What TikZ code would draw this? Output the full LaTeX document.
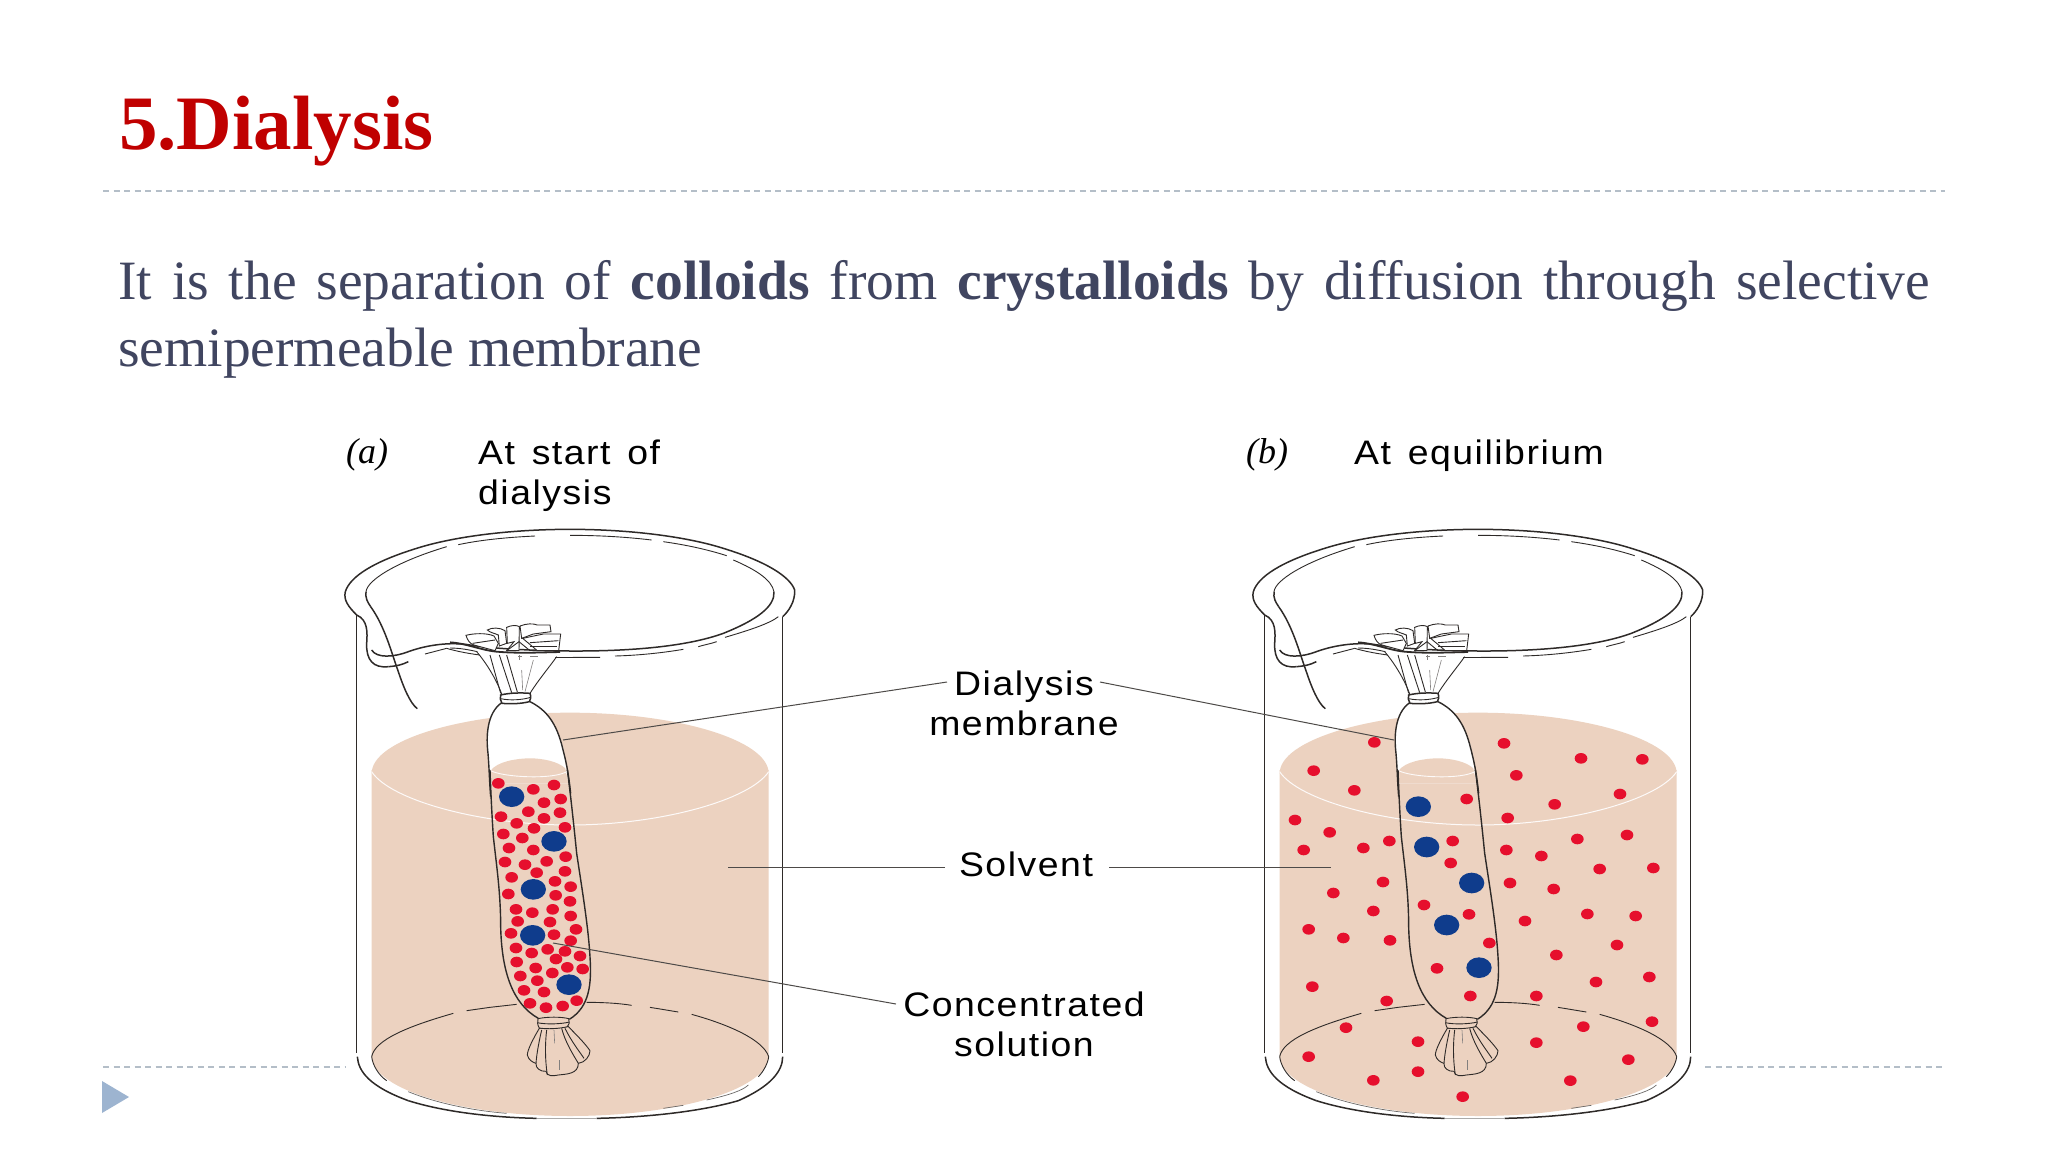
\documentclass[tikz,border=0pt]{standalone}
\usepackage{fontspec}
\setmainfont{Liberation Serif}
\newfontfamily\lab[LetterSpace=4.5,FakeStretch=1.1,WordSpace=1.4]{Liberation Sans}
\definecolor{liq}{HTML}{ECD2C0}
\definecolor{red1}{HTML}{E60F2D}
\definecolor{blu}{HTML}{0F3C8C}
\definecolor{ttl}{HTML}{C00000}
\definecolor{bodyc}{HTML}{404560}
\definecolor{rulec}{HTML}{B4BEC8}
\definecolor{tri}{HTML}{9DB4D0}
\definecolor{ink}{HTML}{2E2A28}
\tikzset{
 z1/.style={shift={(330,420)},x=0.33333pt,y=-0.33333pt},
 z2/.style={shift={(330,770)},x=0.33333pt,y=-0.33333pt},
 z3/.style={shift={(1240,700)},x=0.33333pt,y=-0.33333pt},
 k1/.style={shift={(450,610)},x=0.33333pt,y=-0.33333pt},
 k2/.style={shift={(510,1000)},x=0.33333pt,y=-0.33333pt},
 glass/.style={draw=ink,line width=1.5pt},
 thin glass/.style={draw=ink,line width=0.9pt},
 faint/.style={draw=ink!60,line width=0.6pt},
 leader/.style={draw=ink!85,line width=1pt},
 lbl/.style={font=\fontsize{34}{40}\selectfont\lab,text=black,inner sep=0pt,align=center},
 head/.style={font=\fontsize{34}{40}\selectfont\lab,text=black,inner sep=0pt,anchor=base west},
 tag/.style={font=\fontsize{36}{40}\selectfont\itshape,text=black,inner sep=0pt,anchor=base west},
 rule/.style={draw=rulec,line width=1.4pt,dash pattern=on 6pt off 4.5pt},
 rd/.style={fill=red1,draw=none},
 bl/.style={fill=blu,draw=none},
}
\newcommand\beakerbase{%
 \begin{scope}[z2]
  \fill[liq] (125,0) -- (125,860) .. controls (130,960) and (400,1038) .. (720,1038)
     .. controls (1040,1038) and (1310,960) .. (1316,860) -- (1316,0) -- cycle;
 \end{scope}
 \begin{scope}[z1]
  \fill[liq] (125,1060) .. controls (125,960) and (400,878) .. (720,878)
     .. controls (1040,878) and (1316,960) .. (1316,1060) -- cycle;
  \fill[white] (515,848) .. controls (470,880) and (468,950) .. (474,1000)
     -- (480,1090) -- (715,1090) -- (700,985) .. controls (680,910) and (650,870) .. (600,845) -- cycle;
  \fill[liq] (482,1052) .. controls (500,1025) and (560,1015) .. (600,1015)
     .. controls (640,1015) and (685,1025) .. (706,1045) -- (715,1090) -- (480,1090) -- cycle;
 \end{scope}
 \begin{scope}[z2]
  \draw[white!90!liq,line width=1pt] (125,5) .. controls (180,90) and (450,165) .. (720,165)
     .. controls (990,165) and (1260,90) .. (1316,5);
  \draw[white!90!liq,line width=0.9pt] (482,2) .. controls (520,22) and (670,30) .. (712,4);
  \draw[thin glass] (125,860) .. controls (135,810) and (230,770) .. (370,730);
  \draw[thin glass] (410,722) -- (480,712) -- (560,703);
  \draw[thin glass] (770,697) .. controls (820,697) and (870,700) .. (905,706);
  \draw[thin glass] (960,712) -- (1045,726);
  \draw[thin glass] (1085,733) .. controls (1200,765) and (1300,810) .. (1316,860);
  \draw[thin glass] (125,860) .. controls (128,885) and (145,915) .. (170,932);
  \draw[thin glass] (1316,860) .. controls (1314,880) and (1300,905) .. (1285,920);
  \draw[draw=ink!70,line width=0.7pt] (235,965) .. controls (320,1000) and (430,1022) .. (530,1030);
  \draw[draw=ink!70,line width=0.7pt] (1130,990) .. controls (1200,975) and (1240,960) .. (1255,945);
  \draw[draw=ink!70,line width=0.7pt] (1000,1015) -- (1060,1006);
 \end{scope}
}
\newcommand\beakerglass{%
 \begin{scope}[z1]
  \draw[glass] (80,585) -- (80,1900);
  \draw[glass] (1358,590) -- (1358,1900);
  \draw[glass] (80,585) .. controls (55,560) and (40,540) .. (46,515)
     .. controls (60,470) and (130,425) .. (260,385)
     .. controls (370,350) and (540,328) .. (720,328)
     .. controls (900,328) and (1070,350) .. (1180,385)
     .. controls (1310,425) and (1380,470) .. (1394,510)
     .. controls (1396,545) and (1375,575) .. (1358,590);
  \draw[thin glass] (108,515) .. controls (112,480) and (200,425) .. (350,380);
  \draw[thin glass] (385,374) .. controls (450,360) and (530,352) .. (615,348);
  \draw[thin glass] (720,346) .. controls (800,346) and (880,350) .. (965,360);
  \draw[thin glass] (1000,365) .. controls (1070,375) and (1130,388) .. (1190,407);
  \draw[thin glass] (1210,420) .. controls (1280,450) and (1325,480) .. (1332,515);
  \draw[glass] (108,515) .. controls (106,535) and (112,545) .. (122,560);
  \draw[glass] (122,560) .. controls (165,620) and (185,700) .. (205,755)
     .. controls (220,800) and (240,850) .. (262,866);
  \draw[glass] (1332,515) .. controls (1335,560) and (1280,600) .. (1180,640)
     .. controls (1070,680) and (900,694) .. (720,693)
     .. controls (600,692) and (480,685) .. (420,675)
     .. controls (360,665) and (290,675) .. (235,695)
     .. controls (190,712) and (140,715) .. (125,690);
  \draw[glass] (80,585) .. controls (115,600) and (112,640) .. (110,670)
     .. controls (108,720) and (130,745) .. (175,740);
  \draw[glass] (175,740) .. controls (200,738) and (215,735) .. (235,725);
  \draw[thin glass] (285,702) -- (350,685);
  \draw[thin glass] (350,685) .. controls (400,700) and (480,712) .. (560,713)
     -- (810,712);
  \draw[thin glass] (855,708) .. controls (930,706) and (1000,698) .. (1060,688);
  \draw[thin glass] (1105,680) .. controls (1120,675) and (1140,672) .. (1160,665);
  \draw[thin glass] (1185,652) .. controls (1260,630) and (1320,610) .. (1345,590);
 \end{scope}
 \begin{scope}[z2]
  \draw[glass] (82,860) .. controls (85,905) and (120,950) .. (235,992);
  \draw[glass] (235,992) .. controls (340,1025) and (480,1042) .. (620,1045);
  \draw[glass] (800,1045) .. controls (950,1042) and (1110,1025) .. (1225,992)
     .. controls (1320,950) and (1358,905) .. (1358,860);
  \draw[line width=0.8pt,draw=ink!40] (620,1045) -- (800,1045);
 \end{scope}
}
\newcommand\bagknots{%
 \begin{scope}[z1]
  \draw[glass,line width=1.4pt] (515,848) .. controls (470,880) and (468,950) .. (474,1000)
     .. controls (478,1050) and (478,1080) .. (482,1130);
  \draw[glass,line width=1.4pt] (600,845) .. controls (650,870) and (680,910) .. (698,985)
     .. controls (712,1040) and (715,1060) .. (722,1120);
 \end{scope}
 \begin{scope}[k1]
  \fill[white] (80,125) .. controls (110,160) and (140,210) .. (155,252) -- (240,250)
     .. controls (265,210) and (295,175) .. (320,135) -- cycle;
  \draw[thin glass] (80,125) .. controls (110,160) and (140,210) .. (155,252);
  \draw[thin glass] (320,140) .. controls (295,175) and (265,210) .. (240,250);
  \draw[thin glass] (120,135) -- (152,250);
  \draw[thin glass] (148,135) -- (185,248);
  \draw[thin glass] (170,135) -- (202,246);
  \draw[faint] (250,150) -- (225,245);
  \draw[faint] (215,180) -- (218,240);
  \draw[faint] (207,135) -- (207,150);
  \draw[glass,fill=white] (152,255) .. controls (180,248) and (215,248) .. (240,250)
     .. controls (244,260) and (242,270) .. (238,275)
     .. controls (210,282) and (180,282) .. (156,280)
     .. controls (150,272) and (150,262) .. (152,255) -- cycle;
  \draw[thin glass] (152,266) .. controls (180,272) and (215,270) .. (242,262);
  \draw[thin glass,fill=white] (48,76) .. controls (70,70) and (110,68) .. (132,78)
     -- (145,100) -- (135,122) -- (72,105) .. controls (60,102) and (52,90) .. (48,76) -- cycle;
  \draw[thin glass,fill=white] (112,60) .. controls (125,52) and (150,52) .. (165,62)
     -- (170,100) -- (148,108) -- (145,75) .. controls (135,70) and (120,68) .. (112,60) -- cycle;
  \draw[thin glass,fill=white] (170,52) .. controls (185,45) and (200,45) .. (208,50)
     -- (207,122) -- (170,122) -- (192,95) -- (172,100) -- cycle;
  \draw[thin glass,fill=white] (210,48) .. controls (230,40) and (250,40) .. (262,45)
     -- (300,45) -- (303,65) -- (250,72) -- (215,85) -- cycle;
  \draw[thin glass,fill=white] (218,85) -- (280,72) -- (332,72) -- (326,122) -- (262,122) -- cycle;
  \draw[thin glass] (68,100) -- (135,90);
  \draw[thin glass] (240,98) -- (325,92);
  \draw[thin glass] (240,108) -- (322,108);
  \draw[thin glass] (207,95) -- (240,122);
  \draw[thin glass] (207,95) -- (170,122);
  \draw[glass,line width=1.8pt] (0,97) .. controls (50,100) and (90,120) .. (140,125)
     .. controls (200,130) and (250,128) .. (330,126);
  \draw[thin glass] (0,114) .. controls (30,114) and (60,120) .. (82,125);
  \draw[faint] (205,140) -- (215,140);
  \draw[faint] (240,140) -- (265,140);
 \end{scope}
 \begin{scope}[z2]
  \draw[glass,line width=1.4pt] (480,0) .. controls (482,60) and (486,140) .. (490,200)
     .. controls (500,290) and (512,370) .. (512,470)
     .. controls (515,600) and (545,700) .. (625,745);
  \draw[glass,line width=1.4pt] (712,0) .. controls (720,60) and (730,150) .. (740,250)
     .. controls (755,350) and (775,470) .. (780,560)
     .. controls (785,640) and (780,710) .. (718,748);
 \end{scope}
 \begin{scope}[k2]
  \draw[thin glass,fill=liq] (88,85) .. controls (70,115) and (52,150) .. (52,165)
     .. controls (55,180) and (70,188) .. (78,190)
     .. controls (76,205) and (92,215) .. (108,214)
     .. controls (110,230) and (130,228) .. (145,225)
     .. controls (170,222) and (205,222) .. (205,190)
     .. controls (225,188) and (240,168) .. (240,152)
     .. controls (225,130) and (195,100) .. (175,80) -- cycle;
  \draw[thin glass] (95,90) .. controls (88,120) and (80,160) .. (78,190);
  \draw[thin glass] (110,90) .. controls (105,130) and (105,180) .. (112,225);
  \draw[thin glass] (155,85) .. controls (165,125) and (190,165) .. (205,190);
  \draw[thin glass] (165,85) .. controls (185,125) and (205,150) .. (222,175);
  \draw[faint] (132,90) -- (134,130);
  \draw[faint] (147,180) -- (147,210);
  \draw[thin glass,fill=liq] (84,56) .. controls (110,50) and (155,50) .. (176,56)
     .. controls (180,65) and (178,75) .. (172,80)
     .. controls (150,86) and (110,88) .. (88,84)
     .. controls (82,75) and (82,65) .. (84,56) -- cycle;
  \draw[thin glass] (82,68) .. controls (110,74) and (155,72) .. (178,66);
 \end{scope}
}
\begin{document}
\begin{tikzpicture}[x=1pt,y=-1pt]
\useasboundingbox (0,0) rectangle (2048,1152);
\fill[white] (0,0) rectangle (2048,1152);
\node[anchor=base west,inner sep=0pt,text=ttl,font=\fontsize{77}{80}\selectfont\bfseries] (title) at (119,149) {5.Dialysis};
\coordinate (r1a) at (103,191); \coordinate (r1b) at (1945,191);
\draw[rule] (r1a) -- (r1b);
\coordinate (r2a) at (103,1067); \coordinate (r2b) at (345,1067);
\coordinate (r3a) at (1705,1067); \coordinate (r3b) at (1945,1067);
\draw[rule] (r2a) -- (r2b);
\draw[rule] (r3a) -- (r3b);
\fill[tri] (102,1081) -- (129,1097) -- (102,1113) -- cycle;
\node[anchor=north west,inner sep=0pt,text width=1812pt,align=justify,text=bodyc,font=\fontsize{55.5}{67}\selectfont] (body) at (118,260)
 {\hyphenpenalty=10000 It is the separation of \textbf{colloids} from \textbf{crystalloids} by diffusion through selective semipermeable membrane};
\begin{scope}
 \beakerbase
 \beakerglass
 \bagknots
 \begin{scope}[z2]
 \foreach \x/\y in {505/40,610/58,672/45,692/87,642/98,595/125,690/128,513/140,642/145,560/160,612/175,705/172,520/192,577/204,537/234,610/240,707/260,525/276,650/274,585/284,620/308,705/304,545/322,675/334,722/350,535/372,677/376,720/394,558/418,607/428,668/418,722/438,563/454,660/456,738/478,543/490,672/494,722/512,558/534,605/549,653/538,705/544,750/558,678/567,560/576,617/594,712/592,758/597,667/609,571/618,622/632,582/661,642/666,740/692,600/700,648/713,698/708}
   \fill[rd] (\x,\y) ellipse (19 and 16);
 \foreach \x/\y in {545/80,672/214,610/358,608/496,717/644}
   \fill[bl] (\x,\y) ellipse (38 and 31);
 \end{scope}
\end{scope}
\begin{scope}[shift={(908,0)}]
 \beakerbase
 \beakerglass
 \bagknots
\end{scope}
\begin{scope}[z3]
 \foreach \x/\y in {403/127,792/130,1023/175,1207/178,221/212,829/226,343/271,680/297,1140/282,944/313,165/360,803/354,269/397,1161/405,1012/417,448/423,638/423,191/450,370/444,799/450,904/468,632/489,1079/507,1240/504,429/546,810/549,941/567,280/579,400/633,552/615,687/643,1042/642,1187/648,855/663,206/688,310/714,450/721,748/729,1131/735,949/765,591/805,1228/831,1068/846,217/860,691/888,889/888,440/903,318/983,1030/980,1236/965,534/1025,889/1028,206/1070,1165/1079,534/1115,400/1141,991/1142,668/1190}
   \fill[rd] (\x,\y) ellipse (19 and 16);
 \foreach \x/\y in {535/320,560/441,695/549,620/675,717/803}
   \fill[bl] (\x,\y) ellipse (38 and 31);
\end{scope}
\node[tag] (taga) at (346,463) {(a)};
\node[head] (heada1) at (478,464) {At start of};
\node[head] (heada2) at (478,504) {dialysis};
\node[tag] (tagb) at (1246,463) {(b)};
\node[head] (headb) at (1354,464) {At equilibrium};
\node[lbl] (mem) at (1024,703) {Dialysis\\membrane};
\node[lbl] (sol) at (1026,864) {Solvent};
\node[lbl] (con) at (1024,1024) {Concentrated\\solution};
\coordinate (memA) at (563,740);
\coordinate (memB) at (1394,740);
\coordinate (solA) at (728,867);
\coordinate (solB) at (1331,867);
\coordinate (conA) at (553,943);
\coordinate (memAs) at (947,682);
\coordinate (memBs) at (1100,682);
\coordinate (solAs) at (945,867);
\coordinate (solBs) at (1109,867);
\coordinate (conAs) at (896,1004);
\draw[leader] (memAs) -- (memA);
\draw[leader] (memBs) -- (memB);
\draw[leader] (solAs) -- (solA);
\draw[leader] (solBs) -- (solB);
\draw[leader] (conAs) -- (conA);
\end{tikzpicture}
\end{document}
